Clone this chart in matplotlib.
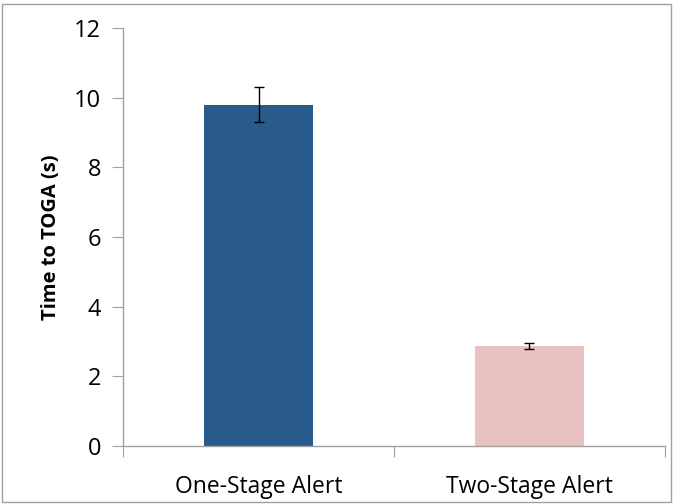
import matplotlib
matplotlib.use("Agg")
import matplotlib.pyplot as plt
from matplotlib.patches import Rectangle

categories = ["One-Stage Alert", "Two-Stage Alert"]
values = [9.8, 2.88]
errors = [0.5, 0.09]
colors = ["#285A8B", "#E9C1C1"]
yticks = [0, 2, 4, 6, 8, 10, 12]

plt.rcParams['font.family'] = ['Open Sans', 'DejaVu Sans']

fig = plt.figure(figsize=(6.73, 5.04), dpi=100)
ax = fig.add_axes([0.183, 0.115, 0.805, 0.829])

x = list(range(len(categories)))
ax.bar(x, values, width=0.4, color=colors, zorder=2)
ax.errorbar(x, values, yerr=errors, fmt='none', ecolor='black', elinewidth=1.0,
            capsize=3.5, capthick=1.0, zorder=3)

ax.set_xlim(-0.5, 1.5)
ax.set_ylim(0, 12)
ax.set_yticks(yticks)
ax.set_yticklabels([str(t) for t in yticks], fontsize=17)

ax.set_xticks([-0.5, 0.5, 1.5])
ax.set_xticklabels(["", "", ""])
ax.set_xticks(x, minor=True)
ax.set_xticklabels(categories, minor=True, fontsize=16.5)
ax.tick_params(axis='x', which='minor', length=0, pad=21)
ax.tick_params(axis='x', which='major', length=8, color='#A0A0A0', direction='out')
ax.tick_params(axis='y', length=8, color='#A0A0A0', direction='out', pad=8)

for s in ['top', 'right']:
    ax.spines[s].set_visible(False)
for s in ['left', 'bottom']:
    ax.spines[s].set_color('#A0A0A0')
    ax.spines[s].set_linewidth(1.0)

ax.set_ylabel("Time to TOGA (s)", fontsize=14.5, fontweight='bold', labelpad=9)

fig.patches.append(Rectangle((0.003, 0.003), 0.994, 0.99, transform=fig.transFigure,
                             fill=False, edgecolor='#A0A0A0', linewidth=1.0))

fig.savefig("out.png", dpi=100)
